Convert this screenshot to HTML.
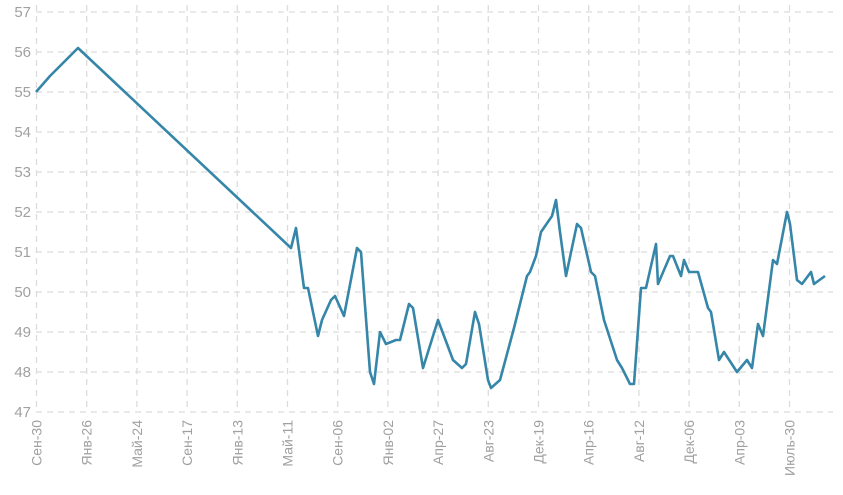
<!DOCTYPE html>
<html><head><meta charset="utf-8"><style>body{margin:0;background:#fff}svg{display:block}text{font-family:"Liberation Sans","DejaVu Sans",sans-serif;fill:#a0a0a0}</style></head><body>
<svg width="843" height="495" viewBox="0 0 843 495">
<g stroke="#dcdcdc" stroke-width="1.3" stroke-dasharray="6,5" fill="none">
<path d="M36 12H833M36 52H833M36 92H833M36 132H833M36 172H833M36 212H833M36 252H833M36 292H833M36 332H833M36 372H833M36 412H833"/>
<path d="M36.5 5V412M86.7 5V412M136.9 5V412M187.1 5V412M237.3 5V412M287.5 5V412M337.7 5V412M387.9 5V412M438.1 5V412M488.3 5V412M538.5 5V412M588.7 5V412M638.9 5V412M689.1 5V412M739.3 5V412M789.5 5V412"/>
</g>
<g font-size="15" text-anchor="end">
<text x="31" y="17">57</text><text x="31" y="57">56</text><text x="31" y="97">55</text><text x="31" y="137">54</text><text x="31" y="177">53</text><text x="31" y="217">52</text><text x="31" y="257">51</text><text x="31" y="297">50</text><text x="31" y="337">49</text><text x="31" y="377">48</text><text x="31" y="417">47</text>
</g>
<g font-size="14" text-anchor="end">
<text transform="translate(41.5,420) rotate(-90)">Сен-30</text>
<text transform="translate(91.7,420) rotate(-90)">Янв-26</text>
<text transform="translate(141.9,420) rotate(-90)">Май-24</text>
<text transform="translate(192.1,420) rotate(-90)">Сен-17</text>
<text transform="translate(242.3,420) rotate(-90)">Янв-13</text>
<text transform="translate(292.5,420) rotate(-90)">Май-11</text>
<text transform="translate(342.7,420) rotate(-90)">Сен-06</text>
<text transform="translate(392.9,420) rotate(-90)">Янв-02</text>
<text transform="translate(443.1,420) rotate(-90)">Апр-27</text>
<text transform="translate(493.3,420) rotate(-90)">Авг-23</text>
<text transform="translate(543.5,420) rotate(-90)">Дек-19</text>
<text transform="translate(593.7,420) rotate(-90)">Апр-16</text>
<text transform="translate(643.9,420) rotate(-90)">Авг-12</text>
<text transform="translate(694.1,420) rotate(-90)">Дек-06</text>
<text transform="translate(744.3,420) rotate(-90)">Апр-03</text>
<text transform="translate(794.5,420) rotate(-90)">Июль-30</text>
</g>
<polyline fill="none" stroke="#3586a8" stroke-width="2.6" stroke-linejoin="round" points="36,92 50,76 62,64 78,48 291,248 296,228 304,288 308,288 318,336 322,320 331,300 335,296 344,316 357,248 361,252 370,372 374,384 380,332 386,344 396,340 400,340 409,304 413,308 423,368 438,320 447,344 453,360 462,368 466,364 475,312 479,324 488,380 491,388 500,380 514,328 527,276 530,272 536,256 541,232 552,216 556,200 560,232 566,276 577,224 581,228 591,272 595,276 604,320 617,360 622,368 630,384 634,384 641,288 646,288 656,244 658,284 670,256 673,256 681,276 684,260 689,272 698,272 708,308 711,312 719,360 724,352 737,372 747,360 752,368 758,324 763,336 773,260 777,264 787,212 790,224 797,280 802,284 811,272 814,284 825,276"/>
</svg>
</body></html>
